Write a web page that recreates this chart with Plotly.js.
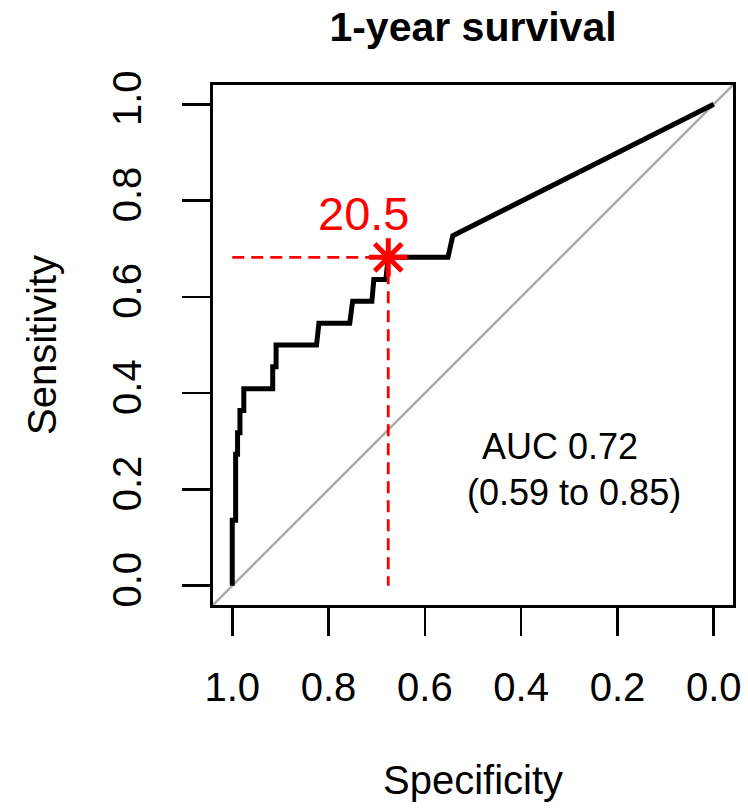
<!DOCTYPE html>
<html>
<head>
<meta charset="utf-8">
<script src="https://cdn.plot.ly/plotly-3.0.1.min.js"></script>
<style>
  html, body { margin: 0; padding: 0; background: #ffffff; }
  #roc { width: 748px; height: 808px; }
</style>
</head>
<body>
<div id="roc"></div>
<script>
// ROC curve vertices (specificity, sensitivity)
const specificity = [1.000, 1.000, 0.993, 0.993, 0.989, 0.989, 0.984, 0.984, 0.976, 0.976,
                     0.916, 0.916, 0.909, 0.909, 0.825, 0.820, 0.756, 0.750, 0.710, 0.706,
                     0.681, 0.676, 0.552, 0.542, 0.000];
const sensitivity = [0.000, 0.136, 0.136, 0.273, 0.273, 0.318, 0.318, 0.364, 0.364, 0.409,
                     0.409, 0.455, 0.455, 0.500, 0.500, 0.545, 0.545, 0.591, 0.591, 0.636,
                     0.636, 0.682, 0.682, 0.727, 1.000];

// Best threshold
const thresholdValue = "20.5";
const thresholdSpec = 0.676;
const thresholdSens = 0.682;

// AUC with confidence interval
const aucValue = 0.72;
const aucLower = 0.59;
const aucUpper = 0.85;

// Axis ticks
const tickValues = [0, 0.2, 0.4, 0.6, 0.8, 1.0];
const tickLabels = ["0.0", "0.2", "0.4", "0.6", "0.8", "1.0"];

const axisRange = [-0.04, 1.04];
const FONT = "Liberation Sans, Arial, sans-serif";

const traces = [
  {
    // ROC curve
    x: specificity, y: sensitivity,
    type: "scatter", mode: "lines",
    line: { color: "#000000", width: 5 },
    hoverinfo: "skip", showlegend: false
  },
  {
    // guide lines to the threshold
    x: [1, thresholdSpec, thresholdSpec],
    y: [thresholdSens, thresholdSens, 0],
    type: "scatter", mode: "lines",
    line: { color: "#ff0000", width: 2.8, dash: "12px,7px" },
    hoverinfo: "skip", showlegend: false
  },
  {
    // threshold point
    x: [thresholdSpec], y: [thresholdSens],
    type: "scatter", mode: "markers",
    marker: { symbol: "asterisk-open", size: 32, color: "#ff0000",
              line: { color: "#ff0000", width: 5 } },
    hoverinfo: "skip", showlegend: false
  }
];

function axisBase() {
  return {
    range: axisRange.slice(),
    showgrid: false, zeroline: false,
    showline: true, mirror: true, linecolor: "#000000", linewidth: 2.8,
    ticks: "outside", ticklen: 28, tickwidth: 2.5, tickcolor: "#000000",
    tickvals: tickValues, ticktext: tickLabels,
    tickfont: { family: FONT, size: 40, color: "#000000" },
    fixedrange: true
  };
}

const xaxis = Object.assign(axisBase(), {
  range: [axisRange[1], axisRange[0]],
  ticklabelstandoff: 17,
  title: { text: "Specificity", font: { family: FONT, size: 40, color: "#000000" }, standoff: 59 }
});
const yaxis = Object.assign(axisBase(), {
  tickangle: -90,
  ticklabelstandoff: 25,
  title: { text: "Sensitivity", font: { family: FONT, size: 40, color: "#000000" }, standoff: 37 }
});

const layout = {
  width: 748, height: 808,
  margin: { l: 213, r: 15, t: 85, b: 203, pad: 0 },
  paper_bgcolor: "#ffffff", plot_bgcolor: "#ffffff",
  title: {
    text: "<b>1-year survival</b>",
    font: { family: FONT, size: 41, color: "#000000" },
    x: 0.5, xref: "paper", xanchor: "center",
    y: 1 - 27 / 808, yref: "container", yanchor: "middle"
  },
  xaxis: xaxis,
  yaxis: yaxis,
  shapes: [
    {
      // chance diagonal across the whole panel
      type: "line", xref: "x", yref: "y", layer: "below",
      x0: axisRange[1], y0: axisRange[0], x1: axisRange[0], y1: axisRange[1],
      line: { color: "#aaaaaa", width: 2.5 }
    }
  ],
  annotations: [
    {
      x: thresholdSpec, y: thresholdSens, xref: "x", yref: "y",
      text: thresholdValue, showarrow: false,
      xanchor: "center", yanchor: "middle", xshift: -25, yshift: 44,
      font: { family: FONT, size: 47, color: "#ff0000" }
    },
    {
      x: 0.32, y: 0.29, xref: "x", yref: "y",
      text: "AUC " + aucValue.toFixed(2), showarrow: false,
      xanchor: "center", yanchor: "middle",
      font: { family: FONT, size: 36, color: "#000000" }
    },
    {
      x: 0.29, y: 0.193, xref: "x", yref: "y",
      text: "(" + aucLower.toFixed(2) + " to " + aucUpper.toFixed(2) + ")", showarrow: false,
      xanchor: "center", yanchor: "middle",
      font: { family: FONT, size: 36, color: "#000000" }
    }
  ]
};

Plotly.newPlot("roc", traces, layout, { displayModeBar: false, staticPlot: true });
</script>
</body>
</html>
